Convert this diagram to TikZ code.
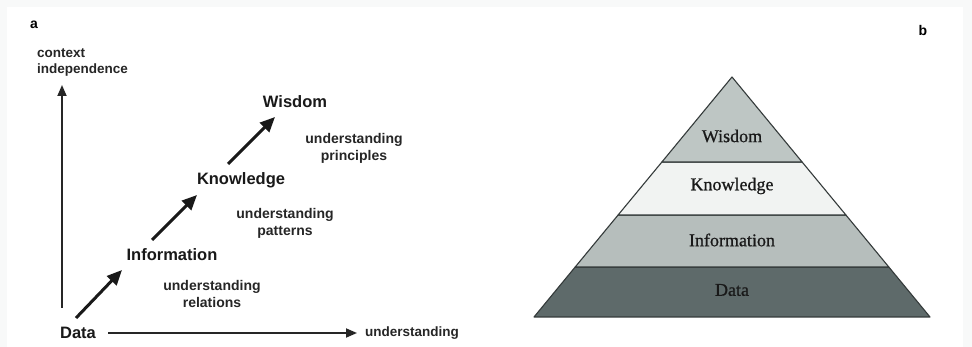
\documentclass[tikz,border=0pt]{standalone}
\usepackage{fontspec}
\setmainfont{Liberation Serif}
\newfontfamily\arialfont{Liberation Sans}
\newfontfamily\pyrfont[FakeBold=0.8]{Liberation Serif}
\usepackage{xcolor}
\usetikzlibrary{arrows.meta}
\definecolor{framegray}{HTML}{F8F9F9}
\definecolor{wisdomgray}{HTML}{BEC6C4}
\definecolor{knowgray}{HTML}{F1F3F2}
\definecolor{infogray}{HTML}{B6BEBC}
\definecolor{datagray}{HTML}{5E6A6A}
\definecolor{pyrline}{HTML}{343A3A}

\begin{document}
\begin{tikzpicture}[x=1pt, y=-1pt,
  panel/.style={font=\arialfont\bfseries\fontsize{14}{16}\selectfont, inner sep=0pt},
  stage/.style={font=\arialfont\bfseries\fontsize{16.5}{20}\selectfont, text=black!90, inner sep=0pt},
  note/.style={font=\arialfont\bfseries\fontsize{14}{17}\selectfont, text=black!85, align=center, inner sep=0pt},
  axislabel/.style={font=\arialfont\bfseries\fontsize{13.5}{16}\selectfont, text=black!85, align=left, inner sep=0pt},
  axis/.style={line width=1.8pt, black!85, -{Triangle[length=11pt,width=9pt]}},
  climb/.style={line width=3pt, black!90, -{Triangle[length=15pt,width=13pt]}},
  band/.style={draw=pyrline, line width=1.1pt, line join=round},
  layer/.style={font=\pyrfont\fontsize{18}{20}\selectfont, text=black!90, inner sep=0pt}]
  % frame
  \useasboundingbox (0,0) rectangle (972,347);
  \fill[framegray] (0,0) rectangle (972,347);
  \fill[white] (7,7) rectangle (963,347);

  % panel a
  \node[panel] (pa) at (34,25) {a};
  \node[stage] (data) at (78,333) {Data};
  \node[stage] (info) at (172,255) {Information};
  \node[stage] (know) at (241,180) {Knowledge};
  \node[stage] (wis) at (295,102) {Wisdom};
  \node[note] (rel) at (212,294) {understanding\\relations};
  \node[note] (pat) at (285,223) {understanding\\patterns};
  \node[note] (pri) at (354,148) {understanding\\principles};
  \node[axislabel, anchor=west] (ctx) at (37,63) {context\\independence};
  \node[axislabel, anchor=west] (xlab) at (365,333) {understanding};
  \coordinate (ytip) at (62,85);
  \draw[axis] ([shift={(-16,-25)}]data.center) -- (ytip);
  \draw[axis] ([shift={(30,0)}]data.center) -- ([xshift=-8pt]xlab.west);
  \draw[climb] ([shift={(-2,-15)}]data.center) -- ([shift={(-50,15)}]info.center);
  \draw[climb] ([shift={(-20,-15)}]info.center) -- ([shift={(-44,15)}]know.center);
  \draw[climb] ([shift={(-13,-16)}]know.center) -- ([shift={(-20,15)}]wis.center);

  % panel b
  \node[panel] (pb) at (923,30) {b};
  \draw[band, fill=datagray] (575.2,267) -- (888.8,267) -- (930,317) -- (534,317) -- cycle;
  \draw[band, fill=infogray] (618.1,215) -- (845.9,215) -- (888.8,267) -- (575.2,267) -- cycle;
  \draw[band, fill=knowgray] (661.9,162) -- (802.1,162) -- (845.9,215) -- (618.1,215) -- cycle;
  \draw[band, fill=wisdomgray] (732,77) -- (802.1,162) -- (661.9,162) -- cycle;
  \node[layer] (lwis) at (732,136) {Wisdom};
  \node[layer] (lknow) at (732,186) {Knowledge};
  \node[layer] (linfo) at (732,240) {Information};
  \node[layer] (ldata) at (732,290) {Data};
\end{tikzpicture}
\end{document}
